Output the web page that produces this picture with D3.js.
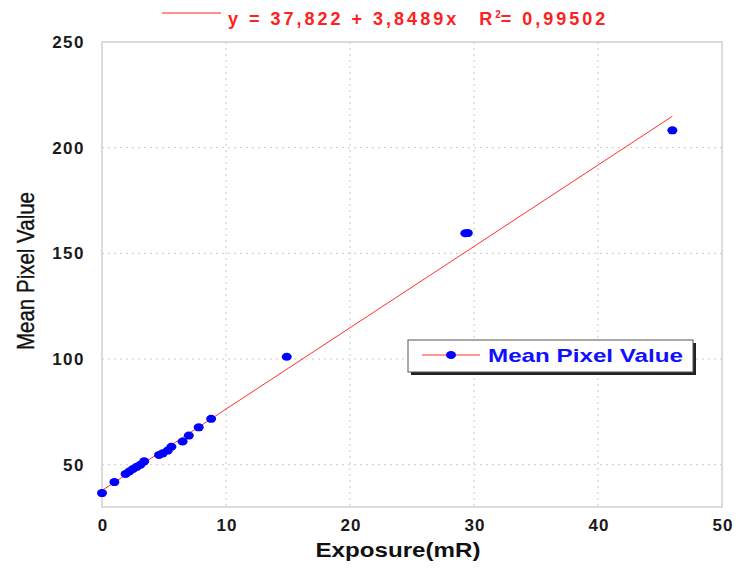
<!DOCTYPE html>
<html>
<head>
<meta charset="utf-8">
<script src="https://cdn.jsdelivr.net/npm/d3@7"></script>
<style>
  body { margin: 0; background: #fff; }
  svg { display: block; font-family: "Liberation Sans", Arial, sans-serif; }
</style>
</head>
<body>
<svg id="chart" width="736" height="568"></svg>
<script>
// Exposure (mR) vs mean pixel value
const exposure = [0, 1, 1.9, 2.2, 2.5, 2.8, 3.1, 3.4, 4.6, 4.9, 5.3, 5.6, 6.5, 7.0, 7.8, 8.8, 14.9, 29.3, 29.5, 46];
const meanPixel = [36.6, 41.8, 45.6, 46.8, 48, 49, 50, 51.6, 54.6, 55.4, 56.7, 58.5, 61, 63.8, 67.7, 71.7, 101.1, 159.5, 159.6, 208.2];
const xTicks = [0, 10, 20, 30, 40, 50];
const yTicks = [50, 100, 150, 200, 250];
const fitIntercept = 37.822, fitSlope = 3.8489;
const fitRange = [0, 46];

const svg = d3.select("#chart");
const plotLeft = 102, plotRight = 722, plotTop = 42, plotBottom = 507;

const x = d3.scaleLinear().domain([0, 50]).range([plotLeft, plotRight]);
const y = d3.scaleLinear().domain([30, 250]).range([plotBottom, plotTop]);

// Grid lines (dotted)
const grid = svg.append("g")
    .attr("stroke", "#c8c8c8")
    .attr("stroke-dasharray", "2,4");
grid.selectAll(".vx")
    .data(xTicks.filter(d => d > 0 && d < 50))
    .join("line")
    .attr("x1", d => x(d)).attr("x2", d => x(d))
    .attr("y1", plotTop).attr("y2", plotBottom);
grid.selectAll(".hy")
    .data(yTicks.filter(d => d < 250))
    .join("line")
    .attr("x1", plotLeft).attr("x2", plotRight)
    .attr("y1", d => y(d)).attr("y2", d => y(d));

// Plot frame
svg.append("rect")
    .attr("x", plotLeft).attr("y", plotTop)
    .attr("width", plotRight - plotLeft).attr("height", plotBottom - plotTop)
    .attr("fill", "none")
    .attr("stroke", "#d0d0d0")
    .attr("stroke-width", 1.5);

// Tick labels
svg.append("g")
    .selectAll("text")
    .data(xTicks)
    .join("text")
    .attr("x", d => x(d) + 1)
    .attr("y", 531)
    .attr("text-anchor", "middle")
    .attr("font-size", 17)
    .attr("font-weight", "bold")
    .attr("letter-spacing", 1)
    .attr("fill", "#1a1a1a")
    .text(d => d);

svg.append("g")
    .selectAll("text")
    .data(yTicks)
    .join("text")
    .attr("x", 85)
    .attr("y", d => y(d) + 6)
    .attr("text-anchor", "end")
    .attr("font-size", 17)
    .attr("font-weight", "bold")
    .attr("letter-spacing", 1.5)
    .attr("fill", "#1a1a1a")
    .text(d => d);

// Axis titles
svg.append("text")
    .attr("x", 398)
    .attr("y", 557)
    .attr("text-anchor", "middle")
    .attr("font-size", 20)
    .attr("font-weight", "bold")
    .attr("textLength", 165)
    .attr("lengthAdjust", "spacingAndGlyphs")
    .attr("fill", "#111")
    .text("Exposure(mR)");

svg.append("text")
    .attr("transform", "translate(34,271) rotate(-90)")
    .attr("text-anchor", "middle")
    .attr("font-size", 24)
    .attr("stroke", "#111")
    .attr("stroke-width", 0.4)
    .attr("textLength", 158)
    .attr("lengthAdjust", "spacingAndGlyphs")
    .attr("fill", "#111")
    .text("Mean Pixel Value");

// Regression line
svg.append("line")
    .attr("x1", x(fitRange[0])).attr("y1", y(fitIntercept + fitSlope * fitRange[0]))
    .attr("x2", x(fitRange[1])).attr("y2", y(fitIntercept + fitSlope * fitRange[1]))
    .attr("stroke", "#ff3030")
    .attr("stroke-width", 1);

// Data points
svg.append("g")
    .attr("fill", "#0000ff")
    .selectAll("ellipse")
    .data(exposure.map((d, i) => [d, meanPixel[i]]))
    .join("ellipse")
    .attr("cx", d => x(d[0]))
    .attr("cy", d => y(d[1]))
    .attr("rx", 5)
    .attr("ry", 4);

// Equation at the top
svg.append("line")
    .attr("x1", 162).attr("x2", 221)
    .attr("y1", 13).attr("y2", 13)
    .attr("stroke", "#ff2020").attr("stroke-width", 1);

const eq = svg.append("text")
    .attr("x", 228)
    .attr("y", 25)
    .attr("font-size", 18)
    .attr("font-weight", "bold")
    .attr("letter-spacing", 3)
    .attr("fill", "#ff2020");
eq.append("tspan")
    .text("y = " + d3.format(".3f")(fitIntercept).replace(".", ",") + " + " +
          d3.format(".4f")(fitSlope).replace(".", ",") + "x");
eq.append("tspan").attr("dx", 20).text("R");
eq.append("tspan").attr("dy", -7).attr("font-size", 10).attr("letter-spacing", 0).text("2");
eq.append("tspan").attr("dy", 7).text("= 0,99502");

// Legend
const lg = svg.append("g");
lg.append("rect")
    .attr("x", 411).attr("y", 343)
    .attr("width", 285).attr("height", 32)
    .attr("fill", "#222");
lg.append("rect")
    .attr("x", 408).attr("y", 340)
    .attr("width", 285).attr("height", 32)
    .attr("fill", "#fff")
    .attr("stroke", "#555").attr("stroke-width", 1);
lg.append("line")
    .attr("x1", 422).attr("x2", 480)
    .attr("y1", 355).attr("y2", 355)
    .attr("stroke", "#ff3030");
lg.append("ellipse")
    .attr("cx", 451).attr("cy", 355)
    .attr("rx", 5).attr("ry", 4)
    .attr("fill", "#0000ff");
lg.append("text")
    .attr("x", 488).attr("y", 362)
    .attr("font-size", 19)
    .attr("font-weight", "bold")
    .attr("textLength", 195)
    .attr("lengthAdjust", "spacingAndGlyphs")
    .attr("fill", "#1010ff")
    .text("Mean Pixel Value");
</script>
</body>
</html>
